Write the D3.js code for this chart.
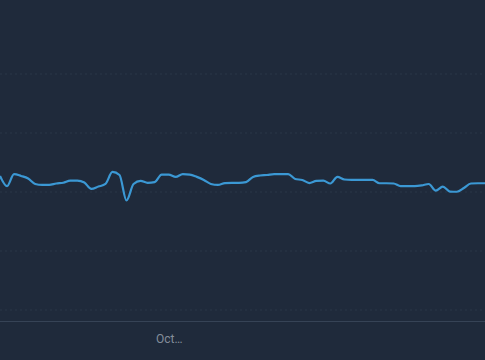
<!DOCTYPE html>
<html><head><meta charset="utf-8">
<script src="https://cdn.jsdelivr.net/npm/d3@7"></script>
<style>html,body{margin:0;padding:0;background:#1f2a3b;}svg{display:block;}</style>
</head><body>
<svg id="c" width="485" height="360"></svg>
<script>
const startDate = "2023-09-07";
const values = [56.8,52.5,57.6,56.8,55.7,53.4,53.0,53.0,53.6,53.9,54.8,54.8,54.0,51.3,52.3,53.4,58.5,57.2,46.4,53.4,
54.7,53.9,54.2,57.4,57.4,56.4,57.6,57.4,56.4,55.1,53.4,53.0,53.8,53.9,53.9,54.2,56.4,57.0,57.2,57.6,
57.6,57.6,55.5,55.1,53.8,54.7,54.8,53.6,56.4,55.3,55.1,55.1,55.1,55.1,53.7,53.7,53.6,52.5,52.5,52.5,
52.8,53.4,50.6,52.3,50.2,50.1,51.7,53.6,53.7,53.7];
const gridTicks = [0,25,50,75,100];
const xTickDates = ["2023-10-01"];
const xTickLabels = ["Oct…"];

const parse = d3.utcParse("%Y-%m-%d");
const t0 = parse(startDate);
const data = values.map((v,i)=>({d:d3.utcDay.offset(t0,i), v}));

const W=485,H=360;
const svg=d3.select("#c");
svg.append("rect").attr("width",W).attr("height",H).attr("fill","#1f2a3b");

const x=d3.scaleUtc().domain(d3.extent(data,d=>d.d)).range([0,W]);
const y=d3.scaleLinear().domain([0,100]).range([310,74]);

// gridlines
svg.append("g").selectAll("line").data(gridTicks).join("line")
  .attr("x1",0).attr("x2",W).attr("y1",d=>y(d)).attr("y2",d=>y(d))
  .attr("stroke","#2a3648").attr("stroke-width",1).attr("stroke-dasharray","2,3");

// x axis
const xa=svg.append("g").attr("transform","translate(0,321)")
  .call(d3.axisBottom(x).tickValues(xTickDates.map(parse)).tickSize(0).tickPadding(13)
    .tickFormat((d,i)=>xTickLabels[i]));
xa.select(".domain").attr("stroke","#364356").attr("d",`M0,0.5H${W}`);
xa.selectAll("text").attr("fill","#848d9a").attr("font-family","Roboto, 'Noto Sans', sans-serif").attr("font-size","12px");

const line=d3.line().x(d=>x(d.d)).y(d=>y(d.v)).curve(d3.curveMonotoneX);
svg.append("path").datum(data).attr("d",line).attr("fill","none")
  .attr("stroke","#3b98d4").attr("stroke-width",2.2).attr("stroke-linejoin","round");
</script>
</body></html>
